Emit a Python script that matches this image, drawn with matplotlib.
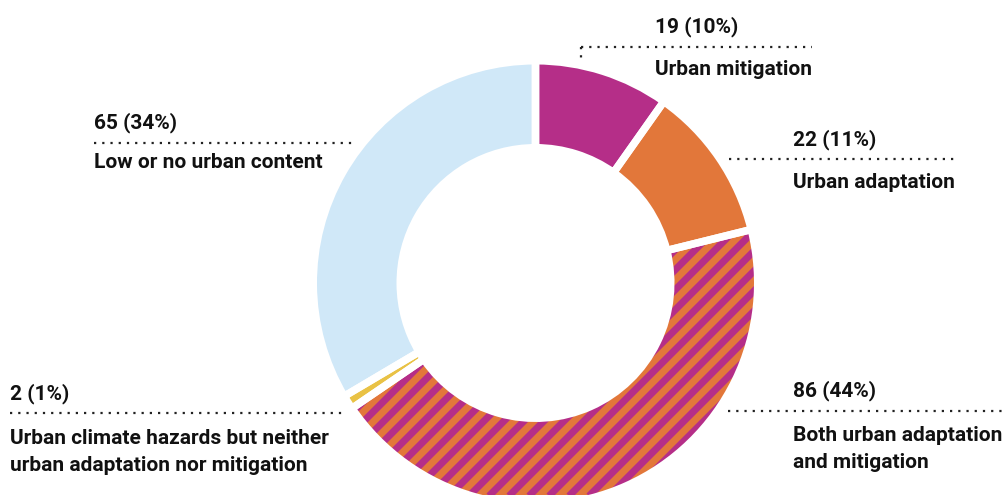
import matplotlib
matplotlib.use("Agg")
import matplotlib.pyplot as plt
import numpy as np

# ---- data ----
categories = ["Urban mitigation", "Urban adaptation", "Both urban adaptation\nand mitigation",
              "Urban climate hazards but neither\nurban adaptation nor mitigation",
              "Low or no urban content"]
counts = [19, 22, 86, 2, 65]
percent_labels = ["19 (10%)", "22 (11%)", "86 (44%)", "2 (1%)", "65 (34%)"]
colors = ["#B52E88", "#E2773A", "#E2773A", "#E9C245", "#D0E8F8"]
striped = [False, False, True, False, False]
stripe_color = "#B52E88"

W, H = 1005, 495
plt.rcParams["font.family"] = ["Roboto", "DejaVu Sans"]

fig = plt.figure(figsize=(W / 100, H / 100), dpi=100)
ax = fig.add_axes([0, 0, 1, 1])

def Y(y):
    return H - y

cx, cy = 535.5, Y(283)
gap = 7.5  # px
r_out_vis, r_in_vis = 218.5, 139.0
r_out = r_out_vis + gap / 2
ring = (r_out_vis - r_in_vis) + gap

wedges, _ = ax.pie(counts, colors=colors, startangle=90, counterclock=False,
                   radius=r_out, center=(cx, cy), frame=True,
                   wedgeprops=dict(width=ring, linewidth=0))

# diagonal stripes for the combined category
period = 20.0  # horizontal period in px
for w, s in zip(wedges, striped):
    if not s:
        continue
    offs = np.arange(-2 * W, 2 * W, period)
    xs = np.array([0, W])
    for c in offs:
        ln, = ax.plot(xs, xs + c, color=stripe_color, linewidth=period / np.sqrt(2) / 2 * 0.72,
                      solid_capstyle="butt", zorder=w.get_zorder() + 0.1)
        ln.set_clip_path(w)

# white separators
ax.pie(counts, colors=["none"] * len(counts), startangle=90, counterclock=False,
       radius=r_out, center=(cx, cy), frame=True,
       wedgeprops=dict(width=ring, linewidth=gap * 0.72, edgecolor="white",
                       facecolor="none", zorder=5))
ax.set_xlim(0, W)
ax.set_ylim(0, H)
ax.set_aspect("equal")
ax.axis("off")

txt_kw = dict(fontsize=15, fontweight="bold", color="#111111")
dot_kw = dict(color="#222222", linewidth=1.6, linestyle=(0, (1, 2.7)),
              dash_capstyle="butt", solid_capstyle="butt")

# label layout: (num_x, num_baseline, line_x0, line_x1, line_y, label_baseline, extra vertical)
layout = {
    0: (655, 32, 581, 812, 47, 75, (581, 47, 63)),
    1: (793, 145, 729, 958, 159, 188, None),
    2: (793, 396, 728, 1005, 411, 441, None),
    3: (10, 399, 10, 345, 413, 444, None),
    4: (94, 128, 94, 353, 143, 168, None),
}
line_gap = 27
for i, (nx, nb, lx0, lx1, ly, lb, vert) in layout.items():
    ax.text(nx, Y(nb), percent_labels[i], ha="left", va="baseline", **txt_kw)
    ax.plot([lx0, lx1], [Y(ly), Y(ly)], **dot_kw)
    if vert:
        vx, vy0, vy1 = vert
        ax.plot([vx, vx], [Y(vy0), Y(vy1)], **dot_kw)
    for k, line in enumerate(categories[i].split("\n")):
        ax.text(nx, Y(lb + k * line_gap), line, ha="left", va="baseline", **txt_kw)

fig.savefig("out.png", dpi=100)
